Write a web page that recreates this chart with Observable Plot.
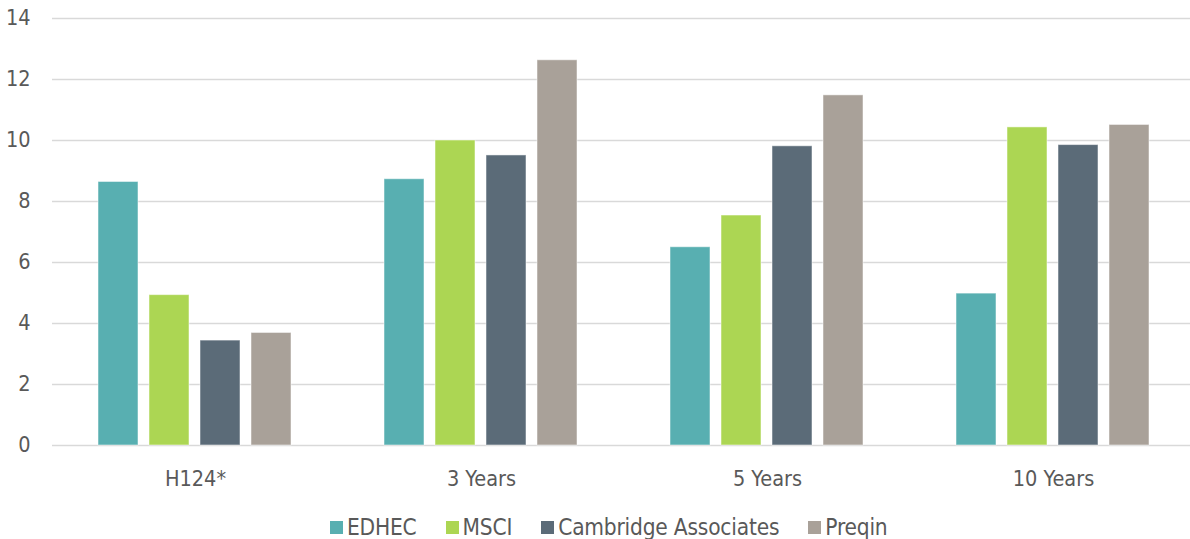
<!DOCTYPE html>
<html>
<head>
<meta charset="utf-8">
<script src="https://cdn.jsdelivr.net/npm/d3@7"></script>
<script src="https://cdn.jsdelivr.net/npm/@observablehq/plot@0.6"></script>
<style>
  html, body { margin: 0; padding: 0; background: #fff; }
  body { width: 1190px; height: 539px; overflow: hidden;
         font-family: "Liberation Sans Narrow", "DejaVu Sans Condensed", "Roboto", sans-serif; color: #595959; }
  #chart svg { display: block; overflow: visible; }
  .legend { display: flex; align-items: center; padding-left: 330px; height: 30px; margin-top: 12px;
            font-size: 22.5px; letter-spacing: -0.2px; color: #595959; }
  .legend .item { display: flex; align-items: center; margin-right: 29px; }
  .legend .sw { width: 13px; height: 13px; margin-right: 4px; }
</style>
</head>
<body>
<div id="chart"></div>
<script>
// Annualised returns by horizon and index provider
const periods = ["H124*", "3 Years", "5 Years", "10 Years"];
const series = ["EDHEC", "MSCI", "Cambridge Associates", "Preqin"];
const colors = ["#58afb1", "#acd653", "#5b6b78", "#a9a199"];

const edhec     = [8.64, 8.73, 6.50, 4.98];
const msci      = [4.93, 10.00, 7.54, 10.43];
const cambridge = [3.44, 9.51, 9.81, 9.85];
const preqin    = [3.69, 12.63, 11.48, 10.51];

const yTicks = [0, 2, 4, 6, 8, 10, 12, 14];

const values = [edhec, msci, cambridge, preqin];
const rows = [];
periods.forEach((p, i) => {
  series.forEach((s, j) => rows.push({period: p, series: s, value: values[j][i]}));
});

const chart = Plot.plot({
  width: 1190,
  height: 500,
  marginLeft: 52,
  marginRight: -6,
  marginTop: 18,
  marginBottom: 55,
  style: {fontFamily: "'Liberation Sans Narrow', 'DejaVu Sans Condensed', Roboto, sans-serif", fontSize: "21.5px", color: "#595959", background: "transparent"},
  fx: {domain: periods, padding: 0, axis: "bottom", tickSize: 0, tickPadding: 25, label: null},
  x: {domain: series, axis: null, paddingInner: 0.2115, paddingOuter: 0.856},
  y: {domain: [0, 14], ticks: yTicks, tickSize: 0, tickPadding: 22, label: null},
  color: {domain: series, range: colors},
  marks: [
    Plot.gridY(yTicks, {stroke: "#d9d9d9", strokeWidth: 1.5, strokeOpacity: 1}),
    Plot.barY(rows, {fx: "period", x: "series", y: "value", fill: "series",
                     stroke: "#ffffff", strokeOpacity: 0.5, strokeWidth: 1})
  ]
});
document.getElementById("chart").appendChild(chart);

// Legend row below the chart
const legend = document.createElement("div");
legend.className = "legend";
series.forEach((s, i) => {
  const item = document.createElement("div");
  item.className = "item";
  const sw = document.createElement("span");
  sw.className = "sw";
  sw.style.background = colors[i];
  const label = document.createElement("span");
  label.textContent = s;
  item.appendChild(sw);
  item.appendChild(label);
  legend.appendChild(item);
});
document.body.appendChild(legend);
</script>
</body>
</html>
